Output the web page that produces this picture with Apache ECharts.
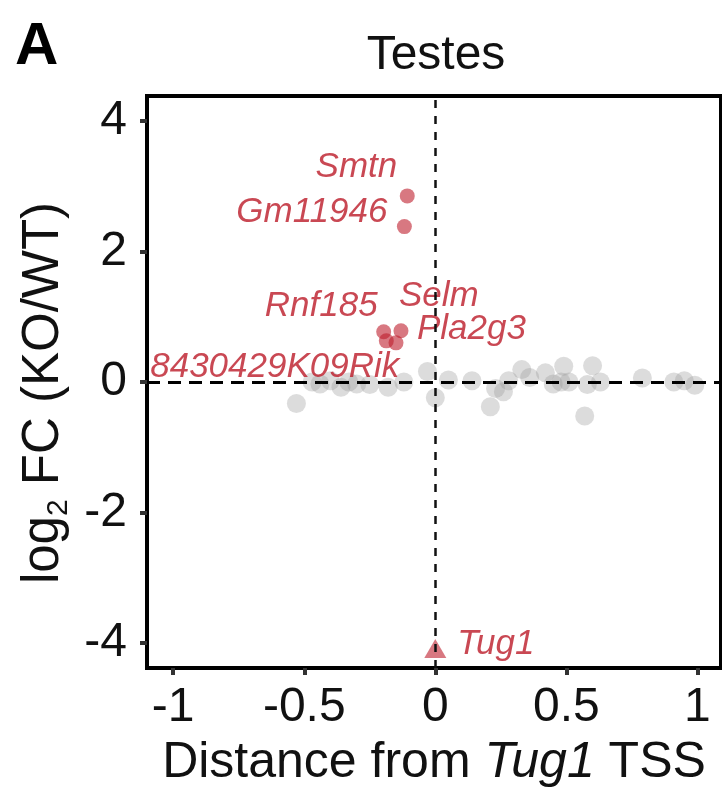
<!DOCTYPE html>
<html>
<head>
<meta charset="UTF-8">
<title>Testes</title>
<script src="https://cdn.jsdelivr.net/npm/echarts@6/dist/echarts.min.js"></script>
<style>
  html, body { margin: 0; padding: 0; background: #fff; }
  #main { width: 722px; height: 793px; }
</style>
</head>
<body>
<div id="main"></div>
<script>
// grey genes (not significant)
var greyX = [-0.53, -0.47, -0.44, -0.40, -0.36, -0.33, -0.30, -0.25, -0.18, -0.12, -0.03, 0.0, 0.05, 0.14, 0.21, 0.23, 0.26, 0.28, 0.33, 0.36, 0.42, 0.45, 0.48, 0.49, 0.51, 0.57, 0.58, 0.60, 0.63, 0.79, 0.91, 0.95, 0.99];
var greyY = [-0.33, 0.0, -0.03, 0.02, -0.08, 0.0, -0.03, -0.04, -0.08, 0.0, 0.16, -0.24, 0.03, 0.02, -0.38, -0.10, -0.15, 0.02, 0.19, 0.07, 0.14, -0.03, 0.0, 0.24, 0.0, -0.52, -0.04, 0.25, 0.0, 0.06, 0.0, 0.02, -0.05];

// red genes (significant)
var redNames = ['Smtn', 'Gm11946', 'Rnf185', 'Selm', 'Pla2g3', '8430429K09Rik'];
var redX = [-0.107, -0.118, -0.197, -0.131, -0.150, -0.187];
var redY = [2.85, 2.38, 0.77, 0.785, 0.60, 0.63];

// Tug1 itself
var tugName = 'Tug1';
var tugX = 0.0;
var tugY = -4.08;

var xTicks = [-1, -0.5, 0, 0.5, 1];
var yTicks = [-4, -2, 0, 2, 4];

// label placement (align, offset from point centre)
var labelPos = {
    'Smtn': ['right', -10, -29],
    'Gm11946': ['right', -17, -14],
    'Rnf185': ['right', -6, -25],
    'Selm': ['left', -2, -34],
    'Pla2g3': ['left', 21, -14],
    '8430429K09Rik': ['right', 13, 26],
    'Tug1': ['left', 22, -4]
};

var FONT = 'Liberation Sans, Arial, sans-serif';
var RED_TXT = '#bc1a28';

function redLabel(name) {
    var p = labelPos[name];
    return {
        show: true,
        position: 'inside',
        formatter: name,
        align: p[0],
        verticalAlign: 'middle',
        offset: [p[1], p[2]],
        color: RED_TXT,
        fontFamily: FONT,
        fontStyle: 'italic',
        fontSize: 35
    };
}

var greyData = [];
for (var i = 0; i < greyX.length; i++) greyData.push([greyX[i], greyY[i]]);

var redData = [];
for (var j = 0; j < redNames.length; j++) {
    redData.push({ name: redNames[j], value: [redX[j], redY[j]], label: redLabel(redNames[j]) });
}

var myChart = echarts.init(document.getElementById('main'));
var option = {
    animation: false,
    backgroundColor: '#fff',
    textStyle: { fontFamily: FONT },
    graphic: [
        { type: 'text', left: 15, top: 17, style: { text: 'A', font: 'bold 60px ' + FONT, fill: '#000' } },
        { type: 'text', x: 436, y: 56, style: { text: 'Testes', font: '48px ' + FONT, fill: '#111', textAlign: 'center', textVerticalAlign: 'middle' } }
    ],
    grid: {
        left: 147, right: 1, top: 96, bottom: 122,
        show: true, borderColor: '#000', borderWidth: 4, backgroundColor: '#fff'
    },
    xAxis: {
        type: 'value',
        min: -1.1, max: 1.09,
        splitLine: { show: false },
        axisLine: { show: false, onZero: false },
        axisTick: { show: true, customValues: xTicks, length: 7, lineStyle: { color: '#333', width: 4 } },
        axisLabel: { customValues: xTicks, margin: 16, color: '#111', fontSize: 48, fontFamily: FONT },
        name: '{n|Distance from }{i|Tug1}{n| TSS}',
        nameLocation: 'middle',
        nameGap: 70,
        nameTextStyle: {
            rich: {
                n: { fontSize: 50, color: '#111', fontFamily: FONT },
                i: { fontSize: 50, color: '#111', fontFamily: FONT, fontStyle: 'italic' }
            }
        }
    },
    yAxis: {
        type: 'value',
        min: -4.38, max: 4.38,
        splitLine: { show: false },
        axisLine: { show: false, onZero: false },
        axisTick: { show: true, customValues: yTicks, length: 7, lineStyle: { color: '#333', width: 4 } },
        axisLabel: { customValues: yTicks, margin: 20, color: '#111', fontSize: 48, fontFamily: FONT },
        name: '{b|log}{s|2}{b| FC (KO/WT)}',
        nameLocation: 'middle',
        nameGap: 71,
        nameTextStyle: {
            padding: [0, 22, 0, 0],
            rich: {
                b: { fontSize: 51, color: '#111', fontFamily: FONT, lineHeight: 58 },
                s: { fontSize: 30, color: '#111', fontFamily: FONT, lineHeight: 30, verticalAlign: 'bottom' }
            }
        }
    },
    series: [
        {
            name: 'other',
            type: 'scatter',
            z: 2,
            symbol: 'circle',
            symbolSize: 19,
            itemStyle: { color: 'rgba(150,150,150,0.42)' },
            data: greyData
        },
        {
            name: 'sig',
            type: 'scatter',
            z: 3,
            symbol: 'circle',
            symbolSize: 15,
            itemStyle: { color: 'rgba(190,30,45,0.75)' },
            data: redData
        },
        {
            name: 'tug1',
            type: 'scatter',
            z: 3,
            symbol: 'triangle',
            symbolSize: [22, 19],
            itemStyle: { color: 'rgba(190,30,45,0.75)' },
            data: [{ name: tugName, value: [tugX, tugY], label: redLabel(tugName) }]
        },
        {
            name: 'refs',
            type: 'line',
            z: 5,
            data: [],
            markLine: {
                silent: true,
                symbol: ['none', 'none'],
                label: { show: false },
                animation: false,
                data: [
                    { yAxis: 0, lineStyle: { color: '#000', width: 3, type: [13, 8] } },
                    { xAxis: 0, lineStyle: { color: '#111', width: 2.5, type: [8, 8] } }
                ]
            }
        }
    ]
};
myChart.setOption(option);
</script>
</body>
</html>
